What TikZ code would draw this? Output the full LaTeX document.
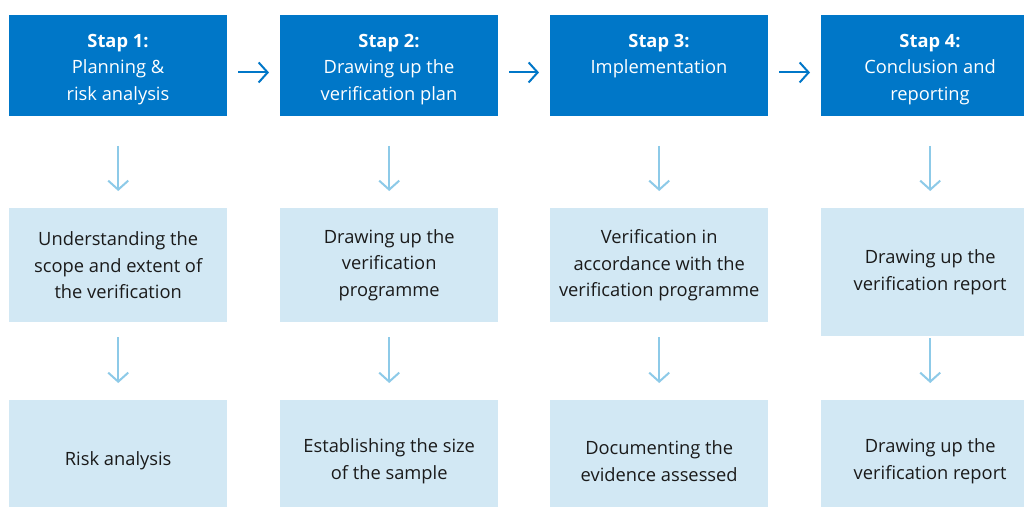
\documentclass[tikz,border=0pt]{standalone}
\usepackage{fontspec}
\setmainfont{Open Sans}
\usetikzlibrary{arrows.meta}
\definecolor{darkblue}{HTML}{0077C8}
\definecolor{lightblue}{HTML}{D2E8F4}
\definecolor{arrowblue}{HTML}{8DCAE8}
\definecolor{txt}{HTML}{1A1A1A}
\tikzset{
  stepbox/.style={fill=darkblue, draw=none, minimum width=218pt, minimum height=100.5pt, inner sep=0pt, anchor=north west},
  steptext/.style={text=white, align=center, inner sep=0pt, anchor=base, font=\fontsize{18.3}{26.5}\selectfont},
  taskbox/.style={fill=lightblue, draw=none, minimum width=218pt, minimum height=114pt, inner sep=0pt, anchor=north west, text=txt, align=center, font=\fontsize{18.3}{26.5}\selectfont},
  harrow/.style={draw=darkblue, line width=2pt, -{Straight Barb[length=9pt,width=20pt]}, shorten <=11pt, shorten >=11pt},
  varrow/.style={draw=arrowblue, line width=2pt, -{Straight Barb[length=9pt,width=20pt]}},
}
\begin{document}
\begin{tikzpicture}[x=1pt,y=-1pt]
\clip (0,0) rectangle (1024,506);
\fill[white] (0,0) rectangle (1024,506);
% top row
\node[stepbox] (t1) at (9,15) {};
\node[stepbox] (t2) at (280,15) {};
\node[stepbox] (t3) at (550,15) {};
\node[stepbox] (t4) at (821,15) {};
% text nodes anchored at the baseline of their last line
\node[steptext] (s1) at (118,100) {\textbf{Stap 1:}\\Planning \&\\risk analysis};
\node[steptext] (s2) at (389,100) {\textbf{Stap 2:}\\Drawing up the\\verification plan};
\node[steptext] (s3) at (659,73.5) {\textbf{Stap 3:}\\Implementation};
\node[steptext] (s4) at (930,100) {\textbf{Stap 4:}\\Conclusion and\\reporting};
% middle row
\node[taskbox] (m1) at (9,208) {Understanding the\\scope and extent of\\the verification};
\node[taskbox] (m2) at (280,208) {Drawing up the\\verification\\programme};
\node[taskbox] (m3) at (550,208) {Verification in\\accordance with the\\verification programme};
\node[taskbox, minimum height=128pt] (m4) at (821,208) {Drawing up the\\verification report};
% bottom row
\node[taskbox, minimum height=122pt] (b1) at (9,400) {Risk analysis};
\node[taskbox, minimum height=122pt] (b2) at (280,400) {Establishing the size\\of the sample};
\node[taskbox, minimum height=122pt] (b3) at (550,400) {Documenting the\\evidence assessed};
\node[taskbox, minimum height=122pt] (b4) at (821,400) {Drawing up the\\verification report};
% horizontal arrows
\draw[harrow] ([yshift=-7pt]t1.east) -- ([yshift=-7pt]t2.west);
\draw[harrow] ([yshift=-7pt]t2.east) -- ([yshift=-7pt]t3.west);
\draw[harrow] ([yshift=-7pt]t3.east) -- ([yshift=-7pt]t4.west);
% vertical arrows
\foreach \c in {1,2,3,4}{
  \draw[varrow, shorten <=30pt, shorten >=17pt] (t\c.south) -- (m\c.north);
}
\foreach \c in {1,2,3}{
  \draw[varrow, shorten <=15pt, shorten >=17pt] (m\c.south) -- (b\c.north);
}
\draw[varrow, shorten <=2pt, shorten >=17pt] (m4.south) -- (b4.north);
\end{tikzpicture}
\end{document}
